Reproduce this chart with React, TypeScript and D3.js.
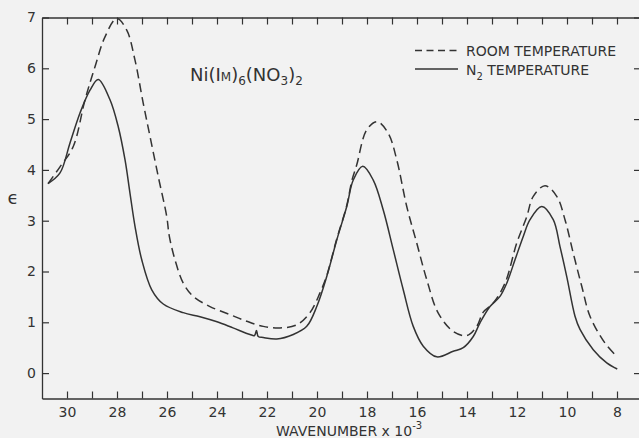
import React, { useEffect, useRef } from 'react';
import * as d3 from 'd3';

// wavenumber (x 10^-3) and epsilon
const roomWave = [30.76, 30.28, 29.75, 29.28, 28.88, 28.48, 28.01, 27.61, 27.28, 26.95, 26.68, 26.35, 26.01, 25.91, 25.68, 25.35, 24.95, 24.28, 23.48, 22.81, 22.15, 21.48, 20.81, 20.28, 19.88, 19.61, 19.21, 18.81, 18.6, 18.41, 18.01, 17.59, 17.15, 16.81, 16.41, 16.01, 15.61, 15.15, 14.55, 14.01, 13.61, 13.35, 12.95, 12.48, 12.01, 11.61, 11.35, 10.88, 10.41, 10.08, 9.75, 9.41, 9.08, 8.48, 8.01];
const roomEps = [3.73, 4.06, 4.46, 5.38, 6.03, 6.62, 6.98, 6.75, 6.16, 5.31, 4.66, 3.87, 3.08, 2.7, 2.23, 1.77, 1.51, 1.31, 1.15, 1.02, 0.92, 0.89, 0.95, 1.19, 1.58, 1.92, 2.64, 3.3, 3.8, 4.1, 4.79, 4.95, 4.72, 4.2, 3.28, 2.56, 1.84, 1.18, 0.82, 0.74, 0.92, 1.2, 1.38, 1.77, 2.56, 3.08, 3.48, 3.69, 3.48, 3.02, 2.36, 1.71, 1.12, 0.59, 0.33];

const n2Wave = [30.76, 30.28, 29.88, 29.48, 29.08, 28.75, 28.28, 27.95, 27.68, 27.48, 27.28, 27.01, 26.61, 26.15, 25.35, 24.68, 24.0, 23.36, 22.68, 22.5, 22.42, 22.35, 22.15, 21.61, 20.95, 20.41, 20.01, 19.61, 19.21, 18.81, 18.55, 18.17, 17.75, 17.35, 16.95, 16.55, 16.15, 15.75, 15.21, 14.55, 14.15, 13.75, 13.48, 13.08, 12.68, 12.41, 12.08, 11.75, 11.48, 11.01, 10.55, 10.28, 10.01, 9.68, 9.48, 8.95, 8.41, 7.99];
const n2Eps = [3.73, 3.94, 4.53, 5.12, 5.57, 5.78, 5.38, 4.85, 4.2, 3.54, 2.89, 2.23, 1.64, 1.36, 1.19, 1.11, 1.01, 0.89, 0.76, 0.74, 0.84, 0.72, 0.7, 0.67, 0.76, 0.92, 1.31, 1.9, 2.62, 3.28, 3.8, 4.07, 3.8, 3.21, 2.43, 1.64, 0.92, 0.53, 0.32, 0.43, 0.5, 0.72, 0.99, 1.31, 1.51, 1.77, 2.23, 2.69, 3.02, 3.28, 3.02, 2.49, 1.9, 1.12, 0.86, 0.46, 0.2, 0.08];

const xTicks = d3.range(8, 31);
const xLabels = [30, 28, 26, 24, 22, 20, 18, 16, 14, 12, 10, 8];
const yTicks = [0, 1, 2, 3, 4, 5, 6, 7];

const W = 639;
const H = 438;
const ink = '#333';
const font = '"DejaVu Sans", sans-serif';

export default function App() {
  const ref = useRef<SVGSVGElement>(null);

  useEffect(() => {
    const svg = d3.select(ref.current);
    svg.selectAll('*').remove();

    const x = d3.scaleLinear().domain([31, 7]).range([42, 642]);
    const y = d3.scaleLinear().domain([-0.5, 7]).range([398.5, 17.5]);

    svg.append('rect').attr('width', W).attr('height', H).attr('fill', '#f2f2f2');

    const styleAxis = (g: any) => {
      g.select('.domain').attr('stroke', ink).attr('stroke-width', 1.3);
      g.selectAll('.tick line').attr('stroke', ink).attr('stroke-width', 1.2);
      g.selectAll('text').attr('fill', ink).attr('font-family', font).attr('font-size', 14);
    };

    // bottom
    const bottom = svg.append('g').attr('transform', `translate(0,${y(-0.5)})`)
      .call(d3.axisBottom(x).tickValues(xTicks).tickSizeInner(-7).tickSizeOuter(0)
        .tickPadding(9)
        .tickFormat((d: any) => (xLabels.includes(d) ? String(d) : '')));
    styleAxis(bottom);
    bottom.selectAll('text').attr('dy', '0.71em');

    // top
    const top = svg.append('g').attr('transform', `translate(0,${y(7)})`)
      .call(d3.axisTop(x).tickValues(xTicks).tickSizeInner(-7).tickSizeOuter(0).tickFormat(() => ''));
    styleAxis(top);

    // left
    const left = svg.append('g').attr('transform', `translate(${x(31)},0)`)
      .call(d3.axisLeft(y).tickValues(yTicks).tickSizeInner(-7).tickSizeOuter(0).tickPadding(6)
        .tickFormat(d3.format('d')));
    styleAxis(left);
    left.selectAll('text').attr('x', -6);

    // right (frame edge just outside the picture)
    const right = svg.append('g').attr('transform', `translate(${x(7) - 2},0)`)
      .call(d3.axisRight(y).tickValues(yTicks).tickSizeInner(-6).tickSizeOuter(0).tickFormat(() => ''));
    styleAxis(right);

    const line = d3.line<[number, number]>()
      .x((d) => x(d[0]))
      .y((d) => y(d[1]))
      .curve(d3.curveCatmullRom.alpha(0.5));

    const room = roomWave.map((w, i) => [w, roomEps[i]] as [number, number]);
    const n2 = n2Wave.map((w, i) => [w, n2Eps[i]] as [number, number]);

    svg.append('path').attr('d', line(room)).attr('fill', 'none')
      .attr('stroke', ink).attr('stroke-width', 1.5).attr('stroke-dasharray', '9,5');
    svg.append('path').attr('d', line(n2)).attr('fill', 'none')
      .attr('stroke', ink).attr('stroke-width', 1.5);

    // legend
    const lg = svg.append('g').attr('font-family', font).attr('font-size', 14).attr('fill', ink);
    lg.append('line').attr('x1', 415).attr('x2', 458).attr('y1', 50.5).attr('y2', 50.5)
      .attr('stroke', ink).attr('stroke-width', 1.4).attr('stroke-dasharray', '7,4.5');
    lg.append('text').attr('x', 466).attr('y', 55.5).text('ROOM TEMPERATURE');
    lg.append('line').attr('x1', 415).attr('x2', 458).attr('y1', 69).attr('y2', 69)
      .attr('stroke', ink).attr('stroke-width', 1.4);
    const n2t = lg.append('text').attr('x', 466).attr('y', 75);
    n2t.append('tspan').text('N');
    n2t.append('tspan').attr('font-size', 10).attr('dy', 5).text('2');
    n2t.append('tspan').attr('dy', -5).text(' TEMPERATURE');

    // compound name
    const t = svg.append('text').attr('x', 190).attr('y', 81).attr('font-family', font)
      .attr('font-size', 18).attr('fill', ink);
    t.append('tspan').text('Ni(I');
    t.append('tspan').attr('font-size', 12).text('M');
    t.append('tspan').text(')');
    t.append('tspan').attr('font-size', 12).attr('dy', 4).text('6');
    t.append('tspan').attr('dy', -4).text('(NO');
    t.append('tspan').attr('font-size', 12).attr('dy', 4).text('3');
    t.append('tspan').attr('dy', -4).text(')');
    t.append('tspan').attr('font-size', 12).attr('dy', 4).text('2');

    // axis titles
    svg.append('text').attr('x', 13).attr('y', 204).attr('text-anchor', 'middle')
      .attr('font-family', font).attr('font-size', 18).attr('fill', ink).text('ϵ');
    const xt = svg.append('text').attr('x', 276).attr('y', 436).attr('font-family', font)
      .attr('font-size', 14).attr('fill', ink);
    xt.append('tspan').text('WAVENUMBER x 10');
    xt.append('tspan').attr('font-size', 10).attr('dy', -7).text('-3');
  }, []);

  return (
    <svg ref={ref} width={W} height={H}
      style={{ position: 'absolute', left: 0, top: 0, display: 'block' }} />
  );
}
